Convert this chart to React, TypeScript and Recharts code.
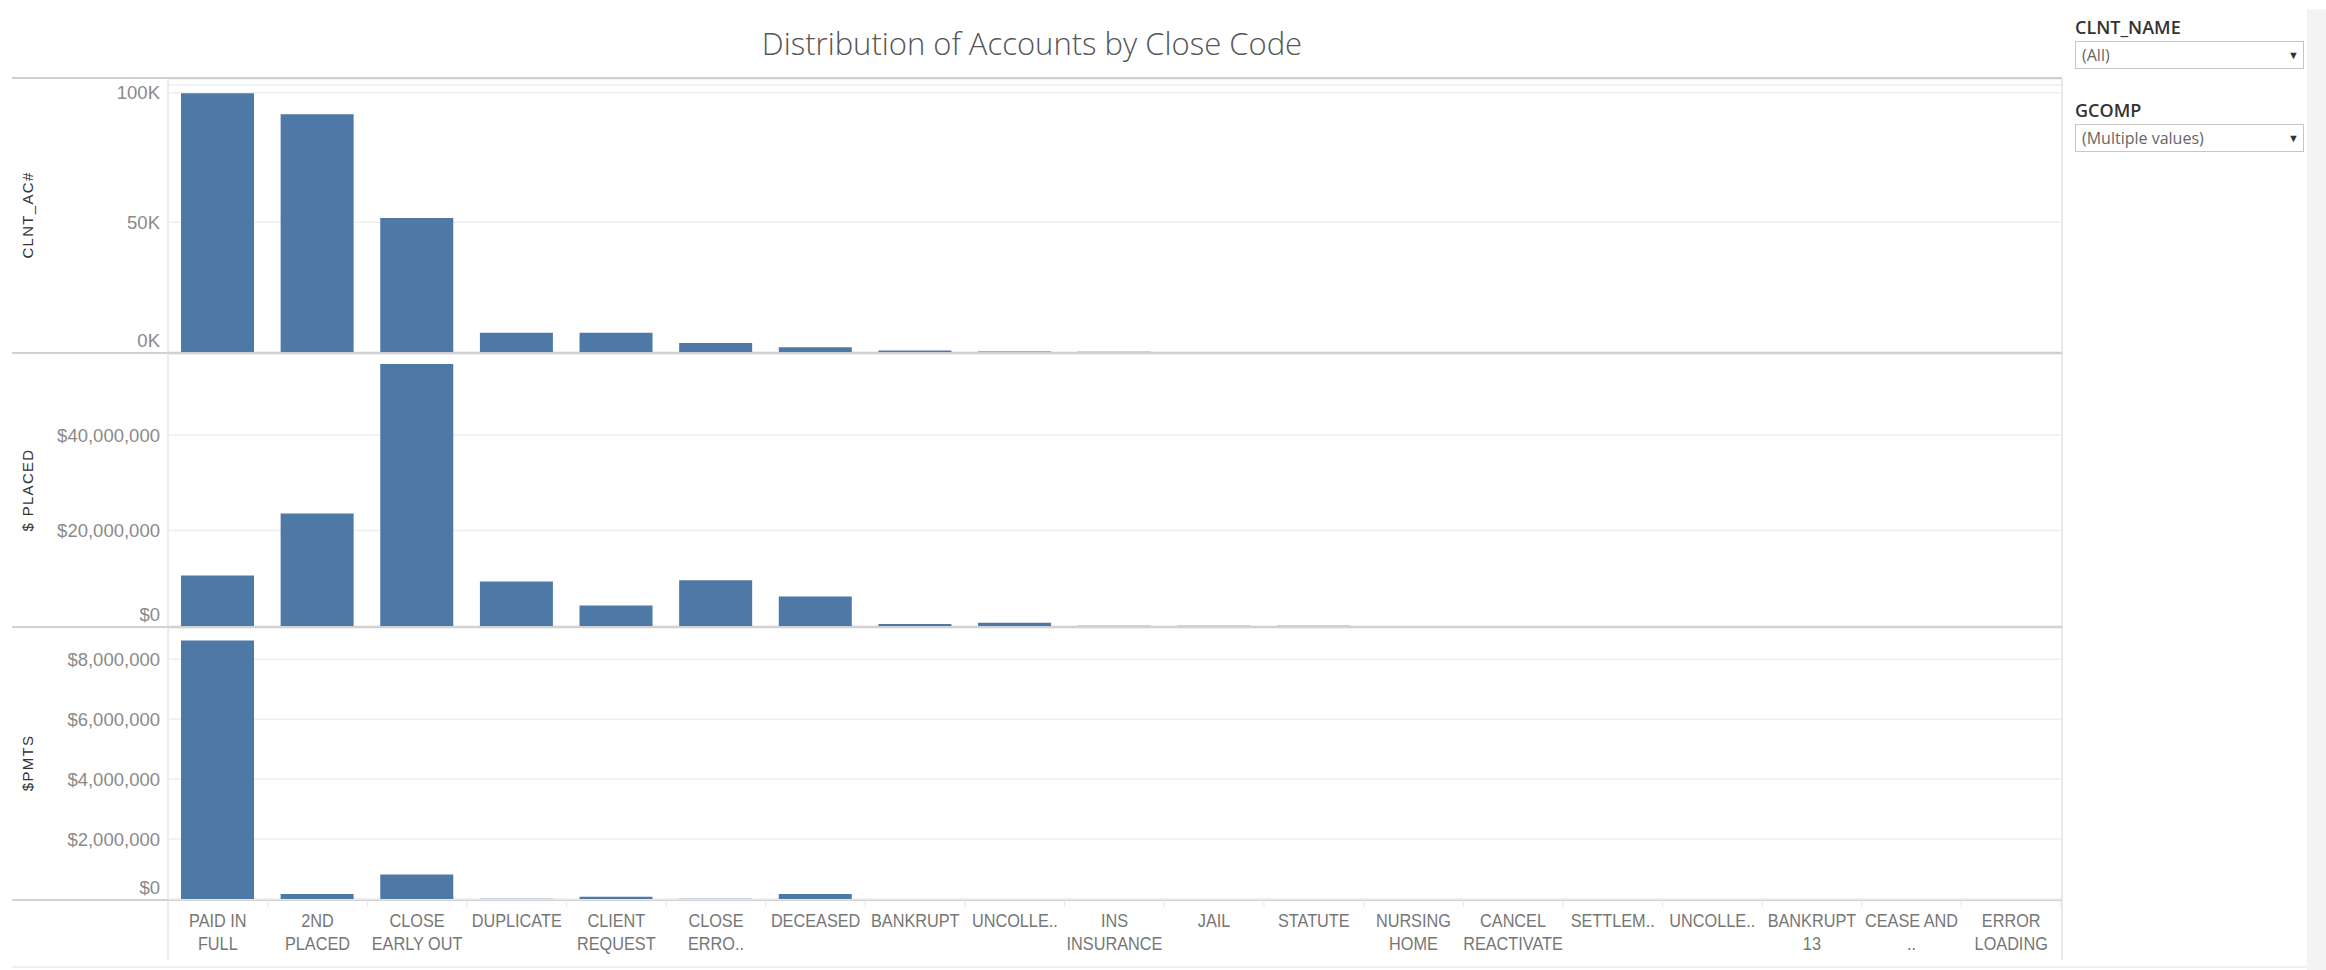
import React from 'react';
import { BarChart, Bar, XAxis, YAxis, CartesianGrid } from 'recharts';

// close codes, in the order shown on the axis
const closeCodes = [
  'PAID IN FULL', '2ND PLACED', 'CLOSE EARLY OUT', 'DUPLICATE', 'CLIENT REQUEST',
  'CLOSE ERRO..', 'DECEASED', 'BANKRUPT', 'UNCOLLE..', 'INS INSURANCE', 'JAIL',
  'STATUTE', 'NURSING HOME', 'CANCEL REACTIVATE', 'SETTLEM..', 'UNCOLLE.. (2)',
  'BANKRUPT 13', 'CEASE AND ..', 'ERROR LOADING',
];

// how each code is wrapped on the axis
const tickLines = [
  ['PAID IN', 'FULL'], ['2ND', 'PLACED'], ['CLOSE', 'EARLY OUT'], ['DUPLICATE'], ['CLIENT', 'REQUEST'],
  ['CLOSE', 'ERRO..'], ['DECEASED'], ['BANKRUPT'], ['UNCOLLE..'], ['INS', 'INSURANCE'], ['JAIL'],
  ['STATUTE'], ['NURSING', 'HOME'], ['CANCEL', 'REACTIVATE'], ['SETTLEM..'], ['UNCOLLE..'],
  ['BANKRUPT', '13'], ['CEASE AND', '..'], ['ERROR', 'LOADING'],
];

const accountCounts = [99800, 91700, 51700, 7400, 7400, 3500, 1800, 600, 150, 60, 40, 30, 25, 20, 15, 10, 8, 5, 3];
const placedAmounts = [10600000, 23600000, 54900000, 9300000, 4300000, 9600000, 6200000, 400000, 700000, 60000, 40000, 30000, 20000, 15000, 10000, 8000, 6000, 4000, 2000];
const paymentAmounts = [8620000, 166000, 820000, 8000, 77000, 6000, 166000, 4000, 3000, 2000, 1000, 1000, 500, 500, 400, 300, 200, 100, 100];

const accountTicks = [0, 50000, 100000];
const placedTicks = [0, 20000000, 40000000];
const paymentTicks = [0, 2000000, 4000000, 6000000, 8000000];

const rows = closeCodes.map((code, i) => ({
  code,
  accounts: accountCounts[i],
  placed: placedAmounts[i],
  payments: paymentAmounts[i],
}));

const BAR_COLOR = '#4e79a7';
const CHART_LEFT = 12;
const PLOT_LEFT = 168;
const PLOT_RIGHT = 2061;
const BAND = (PLOT_RIGHT - PLOT_LEFT) / closeCodes.length;
const TICK_FONT = "'Liberation Sans', Arial, sans-serif";

const fmtK = (v: number) => `${v / 1000}K`;
const fmtDollar = (v: number) => `$${v.toLocaleString('en-US')}`;

// Tableau nudges the bottom label up so it stays inside the pane
const YTick = ({ x, y, payload, fmt }: any) => (
  <text x={x} y={y + (payload.value === 0 ? -12 : 0)} dy={6.6} textAnchor="end" fill="#8a8a8a" fontSize={18.5} fontFamily={TICK_FONT}>
    {fmt(payload.value)}
  </text>
);

const XTick = ({ x, y, payload }: any) => {
  const lines = tickLines[payload.index] || [];
  return (
    <g transform={`translate(${x},${y})`}>
      <line x1={BAND / 2} x2={BAND / 2} y1={1} y2={8} stroke="#e6e6e6" />
      {lines.map((l, i) => (
        <text key={i} transform={`translate(0,${27.5 + i * 23.5}) scale(0.88,1)`} textAnchor="middle" fill="#767676" fontSize={18.5} fontFamily={TICK_FONT}>
          {l}
        </text>
      ))}
    </g>
  );
};

interface PanelProps {
  top: number;
  plotHeight: number;
  dataKey: string;
  domainMax: number;
  ticks: number[];
  fmt: (v: number) => string;
  showX?: boolean;
}

const Panel: React.FC<PanelProps> = ({ top, plotHeight, dataKey, domainMax, ticks, fmt, showX }) => {
  const axisH = showX ? 70 : 0;
  return (
    <div style={{ position: 'absolute', left: CHART_LEFT, top }}>
      <BarChart width={PLOT_RIGHT - CHART_LEFT} height={plotHeight + axisH} data={rows} margin={{ top: 0, right: 0, bottom: 0, left: 0 }}>
        <CartesianGrid horizontal vertical={false} stroke="#eeeeee" strokeWidth={1.5} />
        {showX ? (
          <XAxis dataKey="code" height={axisH} interval={0} axisLine={false} tickLine={false} tickSize={0} tickMargin={0} tick={<XTick />} />
        ) : (
          <XAxis dataKey="code" hide />
        )}
        <YAxis
          width={PLOT_LEFT - CHART_LEFT}
          domain={[0, domainMax]}
          ticks={ticks}
          interval={0}
          axisLine={false}
          tickLine={false}
          tick={<YTick fmt={fmt} />}
        />
        <Bar dataKey={dataKey} fill={BAR_COLOR} barSize={73} isAnimationActive={false} />
      </BarChart>
    </div>
  );
};

const axisTitles = [
  { text: 'CLNT_AC#', y: 215 },
  { text: '$ PLACED', y: 490 },
  { text: '$PMTS', y: 763 },
];

const FilterBox = ({ top, label, value }: { top: number; label: string; value: string }) => (
  <div style={{ position: 'absolute', left: 2075, top, fontFamily: "'Open Sans', sans-serif" }}>
    <div style={{ fontSize: 18, fontWeight: 600, color: '#333', lineHeight: '24px' }}>{label}</div>
    <div style={{ position: 'relative', marginTop: 2, width: 229, height: 28, border: '1px solid #c6c6c6', boxSizing: 'border-box' }}>
      <span style={{ position: 'absolute', left: 6, top: 1, fontSize: 16, color: '#666', lineHeight: '24px' }}>{value}</span>
      <span style={{ position: 'absolute', right: 4, top: 4, fontSize: 11, color: '#333', lineHeight: '18px' }}>▼</span>
    </div>
  </div>
);

export default function App() {
  return (
    <div style={{ position: 'absolute', left: 0, top: 0, width: 2326, height: 970, background: '#fff', overflow: 'hidden' }}>
      <svg width={2326} height={970} style={{ position: 'absolute', left: 0, top: 0 }}>
        <text x={1032} y={55} textAnchor="middle" fontSize={31} fontWeight={300} fill="#555" fontFamily="'Open Sans', sans-serif">
          Distribution of Accounts by Close Code
        </text>
        <line x1={CHART_LEFT} x2={PLOT_RIGHT + 1} y1={78} y2={78} stroke="#cfcfcf" strokeWidth={2} />
        <line x1={PLOT_LEFT} x2={PLOT_RIGHT + 1} y1={85} y2={85} stroke="#f2f2f2" strokeWidth={2} />
        <line x1={CHART_LEFT} x2={PLOT_RIGHT + 1} y1={353} y2={353} stroke="#d2d2d2" strokeWidth={2} />
        <line x1={CHART_LEFT} x2={PLOT_RIGHT + 1} y1={627} y2={627} stroke="#d2d2d2" strokeWidth={2} />
        <line x1={CHART_LEFT} x2={PLOT_RIGHT + 1} y1={900} y2={900} stroke="#d2d2d2" strokeWidth={2} />
        <line x1={CHART_LEFT} x2={2310} y1={967} y2={967} stroke="#f0f0f0" strokeWidth={2} />
        <line x1={PLOT_LEFT} x2={PLOT_LEFT} y1={78} y2={960} stroke="#dadada" strokeWidth={1} />
        <line x1={PLOT_RIGHT + 1} x2={PLOT_RIGHT + 1} y1={78} y2={960} stroke="#d4d4d4" strokeWidth={1} />
        {axisTitles.map((t) => (
          <text key={t.text} transform={`translate(33,${t.y}) rotate(-90)`} textAnchor="middle" fontSize={15} letterSpacing={1.3} fill="#333" fontFamily={TICK_FONT}>
            {t.text}
          </text>
        ))}
      </svg>
      <Panel top={79} plotHeight={273} dataKey="accounts" domainMax={105300} ticks={accountTicks} fmt={fmtK} />
      <Panel top={354} plotHeight={272} dataKey="placed" domainMax={57000000} ticks={placedTicks} fmt={fmtDollar} />
      <Panel top={628} plotHeight={271} dataKey="payments" domainMax={9040000} ticks={paymentTicks} fmt={fmtDollar} showX />
      <FilterBox top={15} label="CLNT_NAME" value="(All)" />
      <FilterBox top={98} label="GCOMP" value="(Multiple values)" />
      <div style={{ position: 'absolute', left: 2307, top: 9, width: 19, height: 961, background: '#f4f4f4' }} />
    </div>
  );
}
